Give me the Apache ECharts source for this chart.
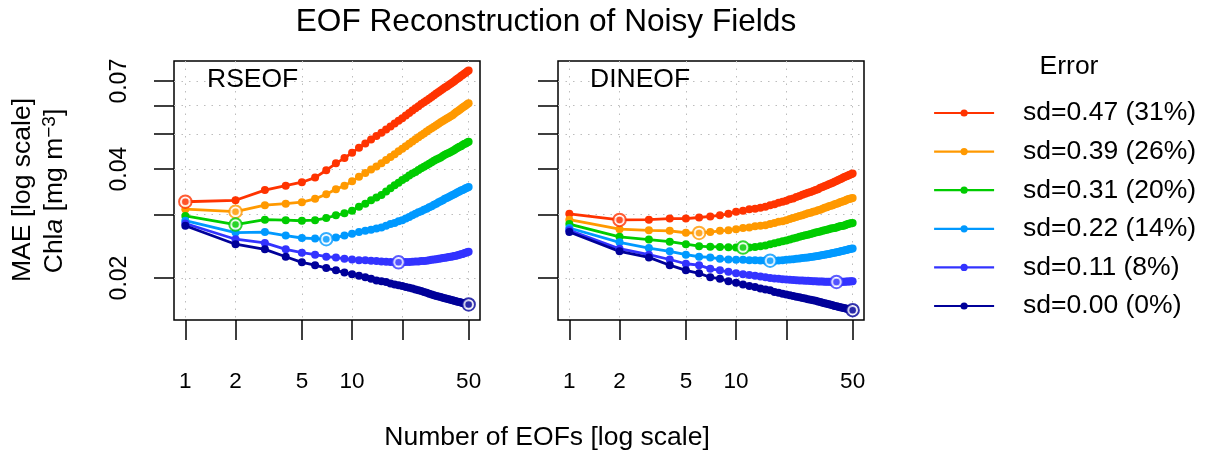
<!DOCTYPE html>
<html><head><meta charset="utf-8">
<script src="https://cdn.jsdelivr.net/npm/echarts@6/dist/echarts.min.js"></script>
<style>html,body{margin:0;padding:0;background:#fff}#c{width:1205px;height:457px}</style>
</head><body><div id="c"></div>
<script>
const nEOF = [1,2,3,4,5,6,7,8,9,10,11,12,13,14,15,16,17,18,19,20,21,22,23,24,25,26,27,28,29,30,31,32,33,34,35,36,37,38,39,40,41,42,43,44,45,46,47,48,49,50];
const seriesNames = ['sd=0.47 (31%)','sd=0.39 (26%)','sd=0.31 (20%)','sd=0.22 (14%)','sd=0.11 (8%)','sd=0.00 (0%)'];
const seriesColors = ['#FF3300','#FF9900','#00CC00','#0099FF','#3333FF','#000099'];
const panelNames = ['RSEOF','DINEOF'];

// RSEOF panel
const rseof047 = [0.0325,0.0328,0.0350,0.0360,0.0368,0.0379,0.0397,0.0415,0.0429,0.0444,0.0458,0.0471,0.0483,0.0494,0.0504,0.0515,0.0525,0.0535,0.0544,0.0553,0.0563,0.0572,0.0581,0.0589,0.0597,0.0605,0.0612,0.0619,0.0626,0.0633,0.0640,0.0647,0.0653,0.0660,0.0666,0.0672,0.0677,0.0683,0.0689,0.0694,0.0700,0.0706,0.0712,0.0717,0.0723,0.0728,0.0734,0.0739,0.0744,0.0749];
const rseof039 = [0.0310,0.0305,0.0318,0.0321,0.0324,0.0331,0.0341,0.0352,0.0360,0.0370,0.0381,0.0390,0.0399,0.0407,0.0415,0.0424,0.0432,0.0440,0.0448,0.0455,0.0463,0.0470,0.0477,0.0484,0.0490,0.0496,0.0502,0.0508,0.0514,0.0519,0.0524,0.0529,0.0534,0.0539,0.0543,0.0548,0.0552,0.0556,0.0560,0.0564,0.0569,0.0574,0.0578,0.0583,0.0587,0.0592,0.0596,0.0600,0.0604,0.0608];
const rseof031 = [0.0297,0.0281,0.0290,0.0289,0.0288,0.0289,0.0293,0.0298,0.0302,0.0307,0.0315,0.0321,0.0328,0.0334,0.0339,0.0347,0.0354,0.0361,0.0367,0.0373,0.0378,0.0384,0.0389,0.0393,0.0398,0.0402,0.0406,0.0410,0.0414,0.0418,0.0422,0.0425,0.0428,0.0431,0.0435,0.0438,0.0441,0.0443,0.0446,0.0449,0.0452,0.0455,0.0458,0.0461,0.0463,0.0466,0.0469,0.0471,0.0474,0.0476];
const rseof022 = [0.0288,0.0267,0.0268,0.0262,0.0258,0.0257,0.0256,0.0259,0.0262,0.0265,0.0268,0.0270,0.0272,0.0274,0.0276,0.0279,0.0282,0.0284,0.0287,0.0289,0.0292,0.0295,0.0298,0.0301,0.0304,0.0306,0.0309,0.0311,0.0314,0.0316,0.0319,0.0321,0.0324,0.0326,0.0328,0.0331,0.0333,0.0335,0.0337,0.0339,0.0341,0.0343,0.0345,0.0347,0.0349,0.0350,0.0352,0.0354,0.0355,0.0357];
const rseof011 = [0.0283,0.0256,0.0250,0.0240,0.0235,0.0232,0.0229,0.0228,0.0226,0.0225,0.0224,0.02238,0.02232,0.02227,0.02222,0.02218,0.02215,0.02212,0.0221,0.02211,0.02213,0.02215,0.02218,0.0222,0.02223,0.02227,0.0223,0.02234,0.0224,0.02245,0.0225,0.02255,0.0226,0.02265,0.0227,0.02275,0.0228,0.02285,0.0229,0.02295,0.0230,0.02306,0.02312,0.02318,0.02325,0.02332,0.0234,0.02348,0.02356,0.02365];
const rseof000 = [0.0279,0.0248,0.0240,0.0229,0.0221,0.0217,0.0213,0.0210,0.0207,0.0205,0.0203,0.0201,0.0199,0.0197,0.0196,0.0195,0.0193,0.0192,0.0191,0.0190,0.0189,0.0188,0.0187,0.0186,0.0185,0.0184,0.0183,0.0182,0.0181,0.0180,0.01793,0.01785,0.01778,0.01772,0.01765,0.01759,0.01753,0.01747,0.01741,0.01735,0.0173,0.01725,0.0172,0.01716,0.01711,0.01707,0.01703,0.01698,0.01694,0.0169];

// DINEOF panel
const dineof047 = [0.0301,0.02895,0.0290,0.0292,0.0292,0.0294,0.0296,0.0298,0.0301,0.0305,0.0307,0.0310,0.0311,0.0313,0.0315,0.0318,0.0320,0.0323,0.0325,0.0327,0.0330,0.0332,0.0335,0.0337,0.0340,0.0342,0.0344,0.0346,0.0348,0.0350,0.0352,0.0355,0.0357,0.0359,0.0361,0.0363,0.0365,0.0367,0.0369,0.0371,0.0373,0.0375,0.0377,0.0379,0.0381,0.0382,0.0384,0.0386,0.0387,0.0389];
const dineof039 = [0.0290,0.0273,0.0271,0.0270,0.02668,0.02665,0.0268,0.0270,0.0271,0.0273,0.0275,0.0276,0.0278,0.0279,0.0280,0.0282,0.0284,0.0286,0.0287,0.0289,0.0291,0.0293,0.0295,0.0297,0.0298,0.0300,0.0302,0.0303,0.0305,0.0306,0.0308,0.0309,0.0311,0.0313,0.0314,0.0316,0.0317,0.0318,0.0320,0.0321,0.0322,0.0324,0.0325,0.0326,0.0327,0.0329,0.0330,0.0331,0.0332,0.0333];
const dineof031 = [0.0282,0.0260,0.02555,0.0252,0.0248,0.0245,0.0244,0.02437,0.02433,0.0243,0.02428,0.0243,0.02437,0.0245,0.0246,0.02478,0.02495,0.02511,0.02526,0.0254,0.02556,0.02571,0.02585,0.02599,0.02612,0.02624,0.02636,0.02648,0.02659,0.0267,0.0268,0.0269,0.0270,0.0271,0.0272,0.0273,0.0274,0.02745,0.0275,0.0276,0.0277,0.0278,0.02785,0.0279,0.0280,0.0281,0.0282,0.0283,0.02835,0.0284];
const dineof022 = [0.0275,0.0251,0.0242,0.0237,0.0232,0.0229,0.0228,0.0226,0.0225,0.02248,0.02245,0.0224,0.02238,0.02236,0.02235,0.02233,0.02234,0.02237,0.0224,0.02245,0.0225,0.02255,0.0226,0.02265,0.0227,0.02275,0.0228,0.02285,0.0229,0.02296,0.02302,0.02308,0.02314,0.0232,0.02326,0.02332,0.02338,0.02344,0.0235,0.02356,0.02362,0.02368,0.02374,0.0238,0.02386,0.02392,0.02398,0.02404,0.02408,0.02413];
const dineof011 = [0.0271,0.0241,0.0232,0.0225,0.0219,0.0217,0.0212,0.0210,0.0208,0.0206,0.0205,0.0204,0.0203,0.0202,0.0201,0.0200,0.01995,0.0199,0.01985,0.0198,0.01977,0.01975,0.01972,0.0197,0.01968,0.01966,0.01964,0.01962,0.0196,0.01958,0.01957,0.01956,0.01955,0.01954,0.01953,0.01952,0.01952,0.01951,0.01951,0.0195,0.01951,0.01951,0.01952,0.01953,0.01954,0.01955,0.01956,0.01957,0.01958,0.0196];
const dineof000 = [0.0268,0.0237,0.0228,0.0217,0.0210,0.0206,0.0201,0.0199,0.0196,0.0194,0.0192,0.0190,0.0189,0.0187,0.0186,0.0185,0.0183,0.0182,0.0181,0.0180,0.01792,0.01784,0.01776,0.01769,0.01762,0.01755,0.01748,0.01742,0.01736,0.0173,0.01723,0.01717,0.0171,0.01704,0.01698,0.01692,0.01686,0.01681,0.01675,0.0167,0.01666,0.01661,0.01657,0.01653,0.01649,0.01645,0.01641,0.01637,0.01633,0.0163];

const xTickValues = [1,2,5,10,20,50];
const xLabelValues = [1,2,5,10,50];
const yTickValues = [0.02,0.03,0.04,0.05,0.06,0.07];
const yLabelValues = [0.02,0.04,0.07];

const panelData = [
  [rseof047, rseof039, rseof031, rseof022, rseof011, rseof000],
  [dineof047, dineof039, dineof031, dineof022, dineof011, dineof000]
];

const FONT = 'Liberation Sans, Arial, Helvetica, sans-serif';
const chart = echarts.init(document.getElementById('c'), null, {renderer: 'canvas'});

const gridLeft = [174, 558];
const grids = gridLeft.map(l => ({left: l, top: 61, width: 306, height: 259, show: true, borderColor: '#000', borderWidth: 1.5, backgroundColor: 'transparent', containLabel: false}));

const splitStyle = {show: true, lineStyle: {color: '#bdbdbd', width: 1, type: [1.5, 6]}};
const xAxes = [0, 1].map(i => ({
  gridIndex: i, type: 'log', logBase: 10, min: 0.855, max: 58.5,
  axisLine: {show: false},
  axisTick: {show: true, customValues: xTickValues, length: 20, inside: false, lineStyle: {color: '#000', width: 1.5}},
  axisLabel: {show: true, customValues: xLabelValues, margin: 50, color: '#000', fontSize: 22.5, fontFamily: FONT,
    formatter: v => String(Math.round(v))},
  splitLine: splitStyle, minorTick: {show: false}, minorSplitLine: {show: false}
}));
const yAxes = [0, 1].map(i => ({
  gridIndex: i, type: 'log', logBase: 10, min: 0.01531, max: 0.0796,
  axisLine: {show: false},
  axisTick: {show: true, customValues: yTickValues, length: 20, inside: false, lineStyle: {color: '#000', width: 1.5}},
  axisLabel: {show: i === 0, customValues: yLabelValues, rotate: 90, margin: 43, color: '#000', fontSize: 23, fontFamily: FONT,
    formatter: v => Number(v).toFixed(2)},
  splitLine: splitStyle, minorTick: {show: false}, minorSplitLine: {show: false}
}));

function argmin(arr) {
  let k = 0;
  for (let i = 1; i < arr.length; i++) if (arr[i] < arr[k]) k = i;
  return k;
}

const series = [];
panelData.forEach((sets, p) => {
  sets.forEach((vals, s) => {
    series.push({
      type: 'line', name: seriesNames[s], xAxisIndex: p, yAxisIndex: p,
      data: nEOF.map((n, i) => [n, vals[i]]),
      symbol: 'circle', symbolSize: 8, showSymbol: true, showAllSymbol: true,
      lineStyle: {color: seriesColors[s], width: 2.8},
      itemStyle: {color: seriesColors[s]},
      emphasis: {disabled: true}, z: 2
    });
  });
});
panelData.forEach((sets, p) => {
  sets.forEach((vals, s) => {
    const k = argmin(vals);
    series.push({
      type: 'scatter', name: seriesNames[s], xAxisIndex: p, yAxisIndex: p,
      data: [[nEOF[k], vals[k]]], symbol: 'circle', symbolSize: 12.5,
      itemStyle: {color: '#fff', borderColor: seriesColors[s], borderWidth: 2},
      emphasis: {disabled: true}, z: 3
    });
    series.push({
      type: 'scatter', name: seriesNames[s], xAxisIndex: p, yAxisIndex: p,
      data: [[nEOF[k], vals[k]]], symbol: 'circle', symbolSize: 6.5,
      itemStyle: {color: seriesColors[s]},
      emphasis: {disabled: true}, z: 4
    });
  });
});

const option = {
  animation: false,
  backgroundColor: '#fff',
  title: [
    {text: 'EOF Reconstruction of Noisy Fields', left: 546, top: 6, textAlign: 'center', padding: 0,
      textStyle: {fontSize: 31.6, fontWeight: 'normal', color: '#000', fontFamily: FONT}},
    {text: panelNames[0], left: 207, top: 66, padding: 0,
      textStyle: {fontSize: 26.5, fontWeight: 'normal', color: '#000', fontFamily: FONT}},
    {text: panelNames[1], left: 590, top: 66, padding: 0,
      textStyle: {fontSize: 26.5, fontWeight: 'normal', color: '#000', fontFamily: FONT}},
    {text: 'Error', left: 1069, top: 53, textAlign: 'center', padding: 0,
      textStyle: {fontSize: 26.5, fontWeight: 'normal', color: '#000', fontFamily: FONT}},
    {text: 'Number of EOFs [log scale]', left: 547, top: 424, textAlign: 'center', padding: 0,
      textStyle: {fontSize: 26.5, fontWeight: 'normal', color: '#000', fontFamily: FONT}}
  ],
  legend: {
    data: seriesNames, orient: 'vertical', left: 933, top: 99, padding: 0,
    itemWidth: 60, itemHeight: 9, itemGap: 10.6, selectedMode: false,
    lineStyle: {width: 2.2},
    textStyle: {fontSize: 26.5, color: '#000', fontFamily: FONT, lineHeight: 28, padding: [0, 0, 0, 24]}
  },
  grid: grids,
  xAxis: xAxes,
  yAxis: yAxes,
  graphic: [
    {type: 'text', x: 23, y: 190, rotation: Math.PI / 2,
      style: {text: 'MAE [log scale]', fill: '#000', fontSize: 26.5, fontFamily: FONT,
        align: 'center', verticalAlign: 'middle', textAlign: 'center', textVerticalAlign: 'middle'}},
    {type: 'text', x: 55, y: 191, rotation: Math.PI / 2,
      style: {text: 'Chl{i|a} [mg m{s|\u22123}]', fill: '#000', fontSize: 26.5, fontFamily: FONT,
        align: 'center', verticalAlign: 'middle', textAlign: 'center', textVerticalAlign: 'middle',
        rich: {i: {fontStyle: 'italic', fontSize: 26.5, fontFamily: FONT, fill: '#000'},
               s: {fontSize: 19, fontFamily: FONT, fill: '#000', verticalAlign: 'top', lineHeight: 30}}}}
  ],
  series: series
};
chart.setOption(option);
</script>
</body></html>
